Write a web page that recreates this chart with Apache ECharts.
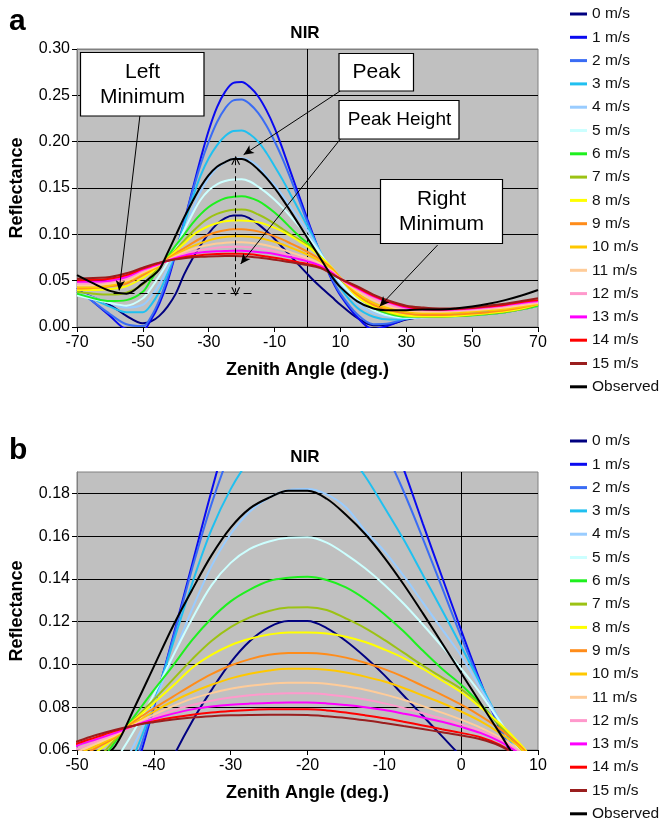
<!DOCTYPE html>
<html>
<head>
<meta charset="utf-8">
<script src="https://cdn.jsdelivr.net/npm/echarts@6/dist/echarts.min.js"></script>
<style>html,body{margin:0;padding:0;background:#fff}#c{width:660px;height:824px}</style>
</head>
<body>
<div id="c"></div>
<script>
// Zenith angles (deg.)
const angles = [-70,-65,-60,-55,-50,-47.5,-45,-42.5,-40,-37.5,-35,-32.5,-30,-27.5,-25,-22.5,-20,-17.5,-15,-12.5,-10,-7.5,-5,-2.5,0,2.5,5,7.5,10,15,20,25,30,35,40,45,50,55,60,65,70];

const ms0  = [0.038,0.032,0.024,0.012,0.004,0.006,0.012,0.022,0.036,0.0565,0.0735,0.088,0.101,0.111,0.1175,0.1203,0.1203,0.117,0.111,0.1035,0.095,0.0855,0.076,0.0665,0.057,0.048,0.040,0.032,0.024,0.010,0.002,0.003,0.008,0.011,0.012,0.0125,0.013,0.014,0.016,0.019,0.023];
const ms1  = [0.042,0.027,0.012,-0.002,-0.003,0.008,0.025,0.049,0.080,0.113,0.147,0.181,0.212,0.237,0.254,0.2635,0.2645,0.259,0.249,0.234,0.215,0.1915,0.166,0.141,0.116,0.092,0.070,0.050,0.034,0.011,-0.002,0.002,0.009,0.013,0.015,0.016,0.017,0.018,0.019,0.021,0.024];
const ms2  = [0.040,0.027,0.014,0.003,0.001,0.011,0.029,0.053,0.081,0.112,0.145,0.175,0.200,0.221,0.236,0.2445,0.2455,0.2405,0.231,0.2175,0.2005,0.181,0.159,0.136,0.113,0.091,0.071,0.052,0.036,0.014,0.003,0.004,0.009,0.012,0.014,0.015,0.016,0.017,0.019,0.021,0.024];
const ms3  = [0.038,0.030,0.022,0.016,0.016,0.024,0.038,0.058,0.082,0.110,0.138,0.163,0.182,0.196,0.206,0.2115,0.212,0.208,0.200,0.188,0.1735,0.1585,0.142,0.1255,0.1085,0.091,0.0735,0.057,0.042,0.021,0.011,0.008,0.009,0.011,0.0125,0.0135,0.0145,0.016,0.018,0.021,0.024];
const ms4  = [0.037,0.032,0.026,0.021,0.024,0.033,0.046,0.063,0.082,0.104,0.126,0.146,0.161,0.1715,0.178,0.1815,0.182,0.1795,0.1735,0.1625,0.153,0.1415,0.129,0.1165,0.104,0.089,0.074,0.059,0.046,0.026,0.015,0.011,0.010,0.0105,0.011,0.012,0.013,0.0145,0.0165,0.0195,0.023];
const ms5  = [0.034,0.030,0.026,0.023,0.031,0.042,0.055,0.0695,0.086,0.104,0.1215,0.137,0.1475,0.154,0.1575,0.1592,0.1595,0.157,0.1515,0.145,0.1373,0.1285,0.1187,0.1085,0.098,0.0865,0.0735,0.0605,0.048,0.030,0.018,0.012,0.010,0.0105,0.011,0.0115,0.0125,0.014,0.016,0.019,0.023];
const ms6  = [0.036,0.031,0.028,0.029,0.038,0.051,0.064,0.076,0.088,0.0995,0.1115,0.1215,0.1295,0.135,0.139,0.1405,0.141,0.1395,0.136,0.1305,0.1235,0.1155,0.1065,0.098,0.0905,0.0815,0.0715,0.0615,0.052,0.035,0.021,0.014,0.011,0.011,0.011,0.0115,0.0125,0.014,0.016,0.019,0.023];
const ms7  = [0.038,0.036,0.035,0.037,0.046,0.055,0.065,0.0745,0.0835,0.093,0.1025,0.111,0.1175,0.122,0.125,0.1266,0.1268,0.1255,0.1215,0.117,0.1115,0.1055,0.0995,0.094,0.0885,0.081,0.0715,0.062,0.052,0.034,0.022,0.015,0.012,0.0112,0.0112,0.012,0.013,0.0145,0.0165,0.0195,0.024];
const ms8  = [0.040,0.040,0.041,0.044,0.053,0.059,0.066,0.074,0.082,0.090,0.0985,0.1045,0.109,0.112,0.114,0.115,0.115,0.1145,0.113,0.1105,0.107,0.103,0.098,0.0925,0.087,0.080,0.0725,0.0635,0.053,0.033,0.022,0.016,0.0125,0.0115,0.0115,0.012,0.0135,0.015,0.017,0.020,0.0245];
const ms9  = [0.0415,0.042,0.044,0.047,0.056,0.061,0.066,0.0735,0.0795,0.085,0.0905,0.0955,0.0995,0.1025,0.1045,0.1054,0.1054,0.1048,0.1032,0.1008,0.0978,0.0942,0.090,0.0858,0.0812,0.076,0.070,0.0625,0.053,0.035,0.024,0.018,0.0145,0.013,0.013,0.0135,0.0145,0.016,0.018,0.021,0.025];
const ms10 = [0.043,0.043,0.045,0.049,0.058,0.062,0.0665,0.0725,0.078,0.0828,0.087,0.0905,0.0935,0.0957,0.0972,0.098,0.098,0.0975,0.0962,0.0943,0.092,0.089,0.0855,0.082,0.078,0.0735,0.068,0.0615,0.052,0.037,0.026,0.020,0.0165,0.015,0.015,0.0155,0.0165,0.018,0.0195,0.022,0.025];
const ms11 = [0.045,0.045,0.047,0.050,0.059,0.063,0.067,0.072,0.0765,0.0805,0.084,0.0866,0.0886,0.090,0.091,0.0915,0.0915,0.091,0.0898,0.0882,0.086,0.0835,0.0805,0.0775,0.0742,0.0705,0.066,0.060,0.052,0.039,0.029,0.022,0.018,0.0165,0.0165,0.017,0.018,0.0195,0.021,0.0235,0.026];
const ms12 = [0.047,0.047,0.049,0.052,0.0605,0.064,0.0675,0.0715,0.0752,0.0785,0.081,0.083,0.0845,0.0856,0.0862,0.0865,0.0865,0.086,0.085,0.0836,0.0818,0.0796,0.0772,0.0747,0.072,0.069,0.065,0.0595,0.052,0.041,0.031,0.024,0.0195,0.018,0.0175,0.018,0.019,0.0205,0.0225,0.025,0.027];
const ms13 = [0.0487,0.049,0.050,0.054,0.062,0.065,0.068,0.0715,0.0745,0.077,0.079,0.0803,0.0812,0.0817,0.082,0.0822,0.0822,0.0818,0.081,0.080,0.0787,0.077,0.0752,0.0732,0.0708,0.068,0.064,0.0585,0.052,0.042,0.033,0.026,0.021,0.019,0.0185,0.019,0.020,0.0215,0.0235,0.026,0.028];
const ms14 = [0.0505,0.051,0.052,0.056,0.063,0.066,0.069,0.0715,0.0735,0.0752,0.0765,0.0775,0.0782,0.0787,0.079,0.079,0.079,0.0785,0.0775,0.0762,0.0748,0.0732,0.0715,0.0697,0.068,0.066,0.0625,0.057,0.052,0.043,0.034,0.027,0.022,0.0195,0.019,0.0195,0.0205,0.022,0.024,0.027,0.029];
const ms15 = [0.052,0.053,0.054,0.058,0.064,0.067,0.0695,0.0715,0.073,0.0743,0.0752,0.0758,0.0762,0.0764,0.0765,0.0765,0.0764,0.0758,0.075,0.0739,0.0726,0.0712,0.0698,0.0683,0.0668,0.065,0.062,0.057,0.052,0.044,0.035,0.028,0.023,0.021,0.020,0.020,0.021,0.023,0.025,0.028,0.031];
const observed = [0.056,0.047,0.039,0.036,0.047,0.054,0.062,0.080,0.099,0.118,0.135,0.151,0.164,0.173,0.178,0.1812,0.1812,0.1775,0.170,0.161,0.150,0.1375,0.124,0.110,0.096,0.082,0.068,0.054,0.043,0.028,0.020,0.018,0.018,0.019,0.019,0.020,0.022,0.025,0.029,0.034,0.040];

const seriesNames = ['0 m/s','1 m/s','2 m/s','3 m/s','4 m/s','5 m/s','6 m/s','7 m/s','8 m/s','9 m/s','10 m/s','11 m/s','12 m/s','13 m/s','14 m/s','15 m/s','Observed'];
const seriesValues = [ms0,ms1,ms2,ms3,ms4,ms5,ms6,ms7,ms8,ms9,ms10,ms11,ms12,ms13,ms14,ms15,observed];

// Tick labels
const xTicksTop = [-70,-50,-30,-10,10,30,50,70];
const yTicksTop = [0,0.05,0.10,0.15,0.20,0.25,0.30];
const xTicksBottom = [-50,-40,-30,-20,-10,0,10];
const yTicksBottom = [0.06,0.08,0.10,0.12,0.14,0.16,0.18];

// Annotation anchors (data coordinates, top panel)
const leftMinArrow = [[-50.9,0.2279],[-57.2,0.0395]];
const peakArrow = [[10.0,0.2548],[-19.4,0.1860]];
const peakHeightArrow = [[10.1,0.2033],[-20.3,0.0680]];
const rightMinArrow = [[39.5,0.0884],[21.9,0.0222]];
const peakHeightLine = [[-21.8,0.180],[-21.8,0.038]];
const baseLine = [[-58.9,0.036],[-16.8,0.036]];

const colors = ['#000080','#0A0AF0','#3A6CF4','#20C0F0','#99CCFF','#CCFFFF','#1EF01E','#9CC214','#FFFF00','#FF8C1A','#FFC800','#FFCC99','#FF99CC','#FF00FF','#FF0000','#9A1E1E','#000000'];

const FONT = '"Liberation Sans", Arial, Helvetica, sans-serif';
const chart = echarts.init(document.getElementById('c'), null, {renderer:'canvas', width:660, height:824});

function pairs(vals){ return angles.map((a,i)=>[a, vals[i]]); }

const chevron = 'path://M0,10 L5,0 L10,10 L8.6,10 L5,2.8 L1.4,10 Z';

const series = [];
[0,1].forEach(g => {
  seriesValues.forEach((vals,k) => {
    const s = {
      type:'line', name:seriesNames[k], xAxisIndex:g, yAxisIndex:g,
      data:pairs(vals), symbol:'none', showSymbol:false, smooth:0.35,
      lineStyle:{width:2, color:colors[k]}, itemStyle:{color:colors[k]},
      clip:true, animation:false, emphasis:{disabled:true}, z:2
    };
    if (k === 0) {
      s.markLine = {silent:true, z:1, symbol:['none','none'], animation:false,
        label:{show:false}, lineStyle:{color:'#000', width:1, type:'solid'},
        data:[{xAxis:0}]};
    }
    if (k === 16 && g === 0) {
      const arrowLine = (pts) => [
        {coord:pts[0], symbol:'none', lineStyle:{color:'#000', width:1, type:'solid'}},
        {coord:pts[1], symbol:'arrow', symbolSize:[7,10]}
      ];
      s.markLine = {silent:true, z:6, animation:false, label:{show:false},
        lineStyle:{color:'#000', width:1, type:'solid'},
        data:[
          arrowLine(leftMinArrow), arrowLine(peakArrow), arrowLine(peakHeightArrow), arrowLine(rightMinArrow),
          [{coord:peakHeightLine[0], symbol:chevron, symbolSize:[9,9], lineStyle:{color:'#000', width:1, type:[5,3]}},
           {coord:peakHeightLine[1], symbol:chevron, symbolSize:[9,9]}],
          [{coord:baseLine[0], symbol:'none', lineStyle:{color:'#000', width:1.2, type:[8,5]}},
           {coord:baseLine[1], symbol:'none'}]
        ]};
    }
    series.push(s);
  });
});

const axisName = {fontWeight:'bold', fontSize:18, color:'#000', fontFamily:FONT};
const tickLbl = {fontSize:16, color:'#000', fontFamily:FONT};

function box(x,y,w,h,text,cx,cy,size){
  return [
    {type:'rect', z:100, shape:{x:x, y:y, width:w, height:h}, style:{fill:'#fff', stroke:'#000', lineWidth:1.2}},
    {type:'text', z:101, x:cx, y:cy, style:{text:text, font:size+'px '+FONT, fill:'#000',
      align:'center', verticalAlign:'middle', textAlign:'center', textVerticalAlign:'middle', lineHeight:25}}
  ];
}
function label(x,y,text,size,align){
  return {type:'text', z:101, x:x, y:y, style:{text:text, font:'bold '+size+'px '+FONT, fill:'#000',
    align:align, verticalAlign:'middle', textAlign:align, textVerticalAlign:'middle'}};
}

const legendBase = {
  type:'plain', data:seriesNames, orient:'vertical', left:565, height:400, padding:5,
  icon:'rect', itemWidth:17, itemHeight:3, itemGap:7.3,
  selectedMode:false, textStyle:{fontSize:15.5, color:'#111', fontFamily:FONT, lineHeight:16}
};

chart.setOption({
  animation:false,
  backgroundColor:'#fff',
  textStyle:{fontFamily:FONT},
  legend:[Object.assign({top:1}, legendBase), Object.assign({top:428}, legendBase)],
  grid:[
    {left:73, top:49, width:465, height:278, show:true, backgroundColor:'#C0C0C0', borderColor:'#808080', borderWidth:1},
    {left:73, top:472, width:465, height:278, show:true, backgroundColor:'#C0C0C0', borderColor:'#808080', borderWidth:1}
  ],
  xAxis:[
    {type:'value', gridIndex:0, min:-70, max:70, interval:10,
     axisLine:{show:true, onZero:false, lineStyle:{color:'#000', width:1}},
     axisTick:{show:true, customValues:xTicksTop, length:5, lineStyle:{color:'#000'}},
     axisLabel:Object.assign({customValues:xTicksTop, margin:8}, tickLbl),
     splitLine:{show:false},
     name:'Zenith Angle (deg.)', nameLocation:'middle', nameGap:34, nameTextStyle:axisName},
    {type:'value', gridIndex:1, min:-50, max:10, interval:10,
     axisLine:{show:true, onZero:false, lineStyle:{color:'#000', width:1}},
     axisTick:{show:true, customValues:xTicksBottom, length:5, lineStyle:{color:'#000'}},
     axisLabel:Object.assign({customValues:xTicksBottom, margin:8}, tickLbl),
     splitLine:{show:false},
     name:'Zenith Angle (deg.)', nameLocation:'middle', nameGap:34, nameTextStyle:axisName}
  ],
  yAxis:[
    {type:'value', gridIndex:0, min:0, max:0.3, interval:0.05,
     axisLine:{show:true, onZero:false, lineStyle:{color:'#808080', width:1}},
     axisTick:{show:true, customValues:yTicksTop, length:5, lineStyle:{color:'#000'}},
     axisLabel:Object.assign({customValues:yTicksTop, margin:7, formatter:v=>Number(v).toFixed(2)}, tickLbl),
     splitLine:{show:true, lineStyle:{color:['#000','#000','#000','#000','#000','#000','#808080'], width:1}},
     name:'Reflectance', nameLocation:'middle', nameGap:51, nameRotate:90, nameTextStyle:axisName},
    {type:'value', gridIndex:1, min:0.06, max:0.19, interval:0.02,
     axisLine:{show:true, onZero:false, lineStyle:{color:'#808080', width:1}},
     axisTick:{show:true, customValues:yTicksBottom, length:5, lineStyle:{color:'#000'}},
     axisLabel:Object.assign({customValues:yTicksBottom, margin:7, formatter:v=>Number(v).toFixed(2)}, tickLbl),
     splitLine:{show:true, lineStyle:{color:['#000','#000','#000','#000','#000','#000','#000','#808080'], width:1}},
     name:'Reflectance', nameLocation:'middle', nameGap:51, nameRotate:90, nameTextStyle:axisName}
  ],
  graphic:[
    label(9,22,'a',30,'left'),
    label(305,33,'NIR',17,'center'),
    label(9,451,'b',30,'left'),
    label(305,457,'NIR',17,'center'),
    ...box(80.5,52.5,123.5,63.5,'Left\nMinimum',142.5,84.5,21),
    ...box(339,53.5,74.5,37.5,'Peak',376.5,72,21),
    ...box(339,100.5,120,38.5,'Peak Height',399.5,119.5,19),
    ...box(380.5,179.5,122,64,'Right\nMinimum',441.5,211.5,21)
  ],
  series:series
});
</script>
</body>
</html>
